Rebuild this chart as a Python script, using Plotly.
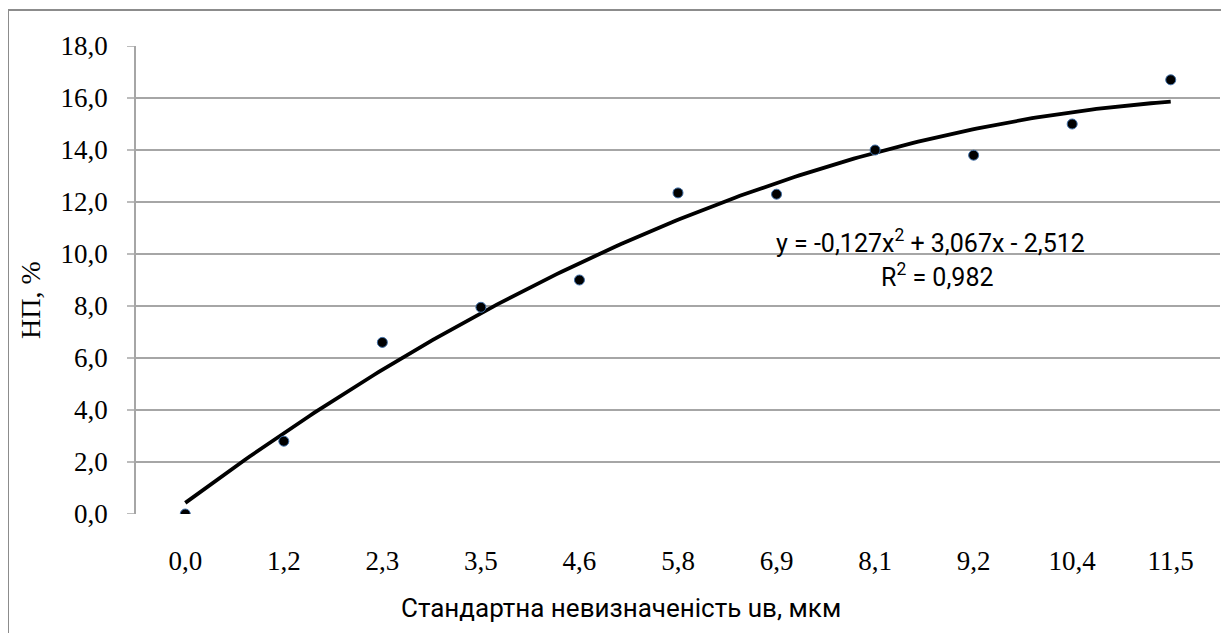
import numpy as np
import plotly.graph_objects as go

categories = ["0,0", "1,2", "2,3", "3,5", "4,6", "5,8", "6,9", "8,1", "9,2", "10,4", "11,5"]
np_values = [0.0, 2.8, 6.6, 7.95, 9.0, 12.35, 12.3, 14.0, 13.8, 15.0, 16.7]
trend_coeffs = [-0.127, 3.067, -2.512]  # y = a*x^2 + b*x + c, x = category index (1..11)
y_ticks = [0, 2, 4, 6, 8, 10, 12, 14, 16, 18]
y_ticktext = ["0,0", "2,0", "4,0", "6,0", "8,0", "10,0", "12,0", "14,0", "16,0", "18,0"]

idx = np.arange(1, len(categories) + 1)
xs = np.linspace(1, len(categories), 200)
ys = np.polyval(trend_coeffs, xs)

fig = go.Figure()
fig.add_trace(go.Scatter(x=xs, y=ys, mode="lines",
                         line=dict(color="black", width=3.8), hoverinfo="skip",
                         showlegend=False))
fig.add_trace(go.Scatter(x=idx, y=np_values, mode="markers",
                         marker=dict(size=10, color="black",
                                     line=dict(color="#3F6FA8", width=1)),
                         showlegend=False))

OFF = 8  # page body margin
W, H = 1229 - OFF, 633 - OFF
L, R, T, B = 136 - OFF, 1220 - OFF, 46 - OFF, 514 - OFF


def px(x):
    return (x - OFF - L) / (R - L)


def py(y):
    return (B - (y - OFF)) / (B - T)


# short visible tick marks left of the y axis (Excel style)
tick_shapes = [
    dict(type="line", xref="paper", yref="y", x0=px(127), x1=0, y0=v, y1=v,
         line=dict(color="#A6A6A6", width=1.5), layer="below")
    for v in y_ticks
]

fig.update_layout(
    width=W, height=H,
    margin=dict(l=L, r=W - R, t=T, b=H - B),
    paper_bgcolor="white", plot_bgcolor="white",
    xaxis=dict(range=[0.5, len(categories) + 0.5],
               tickvals=list(idx), ticktext=categories,
               showgrid=False, zeroline=False, showline=False,
               ticks="outside", ticklen=23, tickcolor="rgba(0,0,0,0)",
               tickfont=dict(family="Liberation Serif", size=27, color="black")),
    yaxis=dict(range=[0, 18], tickvals=y_ticks, ticktext=y_ticktext,
               showgrid=True, gridcolor="#A6A6A6", gridwidth=1.5,
               zeroline=False, showline=True, linecolor="#A6A6A6", linewidth=1.5,
               ticks="outside", ticklen=21, tickcolor="rgba(0,0,0,0)",
               tickfont=dict(family="Liberation Serif", size=27, color="black")),
    shapes=tick_shapes + [
        dict(type="line", xref="paper", yref="paper",
             x0=px(8), x1=px(8), y0=py(10), y1=py(H + OFF + 10),
             line=dict(color="#8C8C8C", width=2)),
        dict(type="line", xref="paper", yref="paper",
             x0=px(8), x1=px(1240), y0=py(10), y1=py(10),
             line=dict(color="#8C8C8C", width=2)),
    ],
    annotations=[
        dict(text="НП, %", xref="paper", yref="paper",
             x=px(30), y=py(300), xanchor="center", yanchor="middle",
             textangle=-90, showarrow=False,
             font=dict(family="Liberation Serif", size=28, color="black")),
        dict(text="Стандартна невизначеність uв, мкм", xref="paper", yref="paper",
             x=px(621), y=py(608), xanchor="center", yanchor="middle",
             showarrow=False,
             font=dict(family="Roboto", size=26, color="black")),
        dict(text="y = -0,127x<sup>2</sup> + 3,067x - 2,512", xref="paper", yref="paper",
             x=px(930), y=py(242), xanchor="center", yanchor="middle",
             showarrow=False,
             font=dict(family="Roboto", size=25, color="black")),
        dict(text="R<sup>2</sup> = 0,982", xref="paper", yref="paper",
             x=px(937), y=py(275), xanchor="center", yanchor="middle",
             showarrow=False,
             font=dict(family="Roboto", size=25, color="black")),
    ],
)
fig.write_html("out.html")
